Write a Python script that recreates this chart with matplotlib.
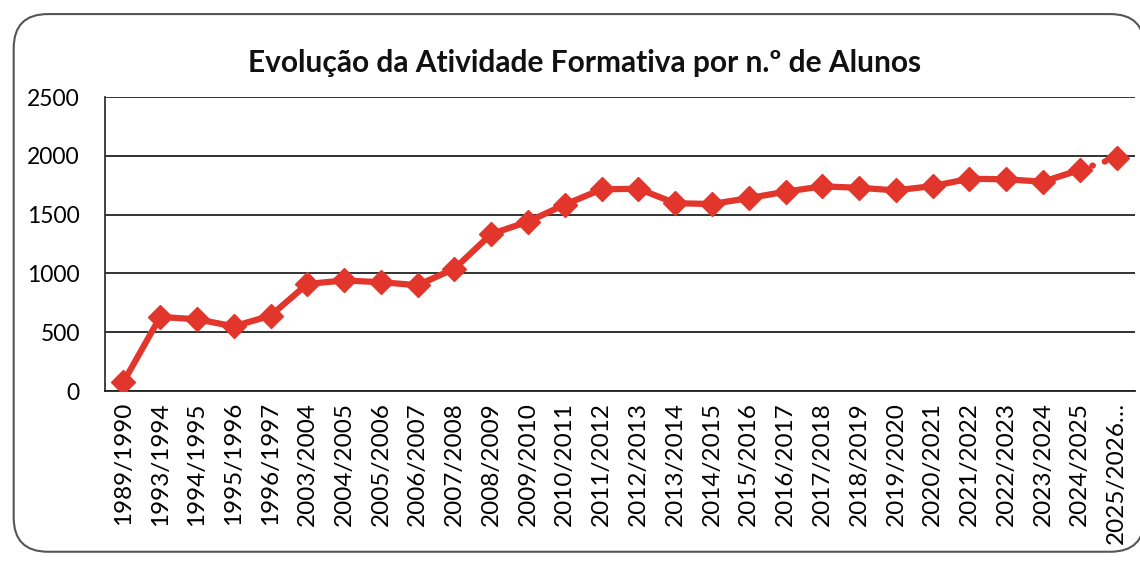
import matplotlib
matplotlib.use("Agg")
import matplotlib.pyplot as plt
from matplotlib.patches import FancyBboxPatch

plt.rcParams['font.family'] = ['Lato', 'DejaVu Sans']

categories = ["1989/1990", "1993/1994", "1994/1995", "1995/1996", "1996/1997",
              "2003/2004", "2004/2005", "2005/2006", "2006/2007", "2007/2008",
              "2008/2009", "2009/2010", "2010/2011", "2011/2012", "2012/2013",
              "2013/2014", "2014/2015", "2015/2016", "2016/2017", "2017/2018",
              "2018/2019", "2019/2020", "2020/2021", "2021/2022", "2022/2023",
              "2023/2024", "2024/2025", "2025/2026…"]
alunos = [75, 630, 610, 550, 640, 910, 940, 925, 900, 1040, 1335, 1440, 1585,
          1715, 1720, 1597, 1590, 1640, 1695, 1740, 1728, 1706, 1743, 1805,
          1800, 1780, 1880, 1985]
y_ticks = [0, 500, 1000, 1500, 2000, 2500]
title = "Evolução da Atividade Formativa por n.º de Alunos"

RED = "#E2352B"

fig = plt.figure(figsize=(11.4, 5.63), dpi=100)
frame = FancyBboxPatch((0.012, 0.02), 0.992, 0.955, transform=fig.transFigure,
                       boxstyle="round,pad=0,rounding_size=0.03",
                       facecolor="white", edgecolor="#555555", linewidth=1.5,
                       mutation_aspect=1140/563, zorder=-5)
fig.patches.append(frame)

ax = fig.add_axes([0.0921, 0.3055, 0.9035, 0.5222])
ax.set_facecolor("none")
x = list(range(len(categories)))

n_solid = len(categories) - 1
ax.plot(x[:n_solid], alunos[:n_solid], color=RED, linewidth=4.5,
        marker="D", markersize=12, markerfacecolor=RED, markeredgecolor=RED,
        solid_joinstyle="round", zorder=3)
ax.plot(x[n_solid - 1:], alunos[n_solid - 1:], color=RED, linewidth=4.5,
        linestyle=(0, (0.1, 2.0)), dash_capstyle="round", zorder=3)
ax.plot(x[n_solid:], alunos[n_solid:], linestyle="none", marker="D",
        markersize=12, color=RED, zorder=3)

ax.set_xlim(-0.5, len(categories) - 0.5)
ax.set_ylim(0, 2500)
ax.set_yticks(y_ticks)
ax.set_yticklabels([str(v) for v in y_ticks], fontsize=16.5)
ax.set_xticks(x)
ax.set_xticklabels(categories, rotation=90, fontsize=17.5)
ax.tick_params(axis="both", length=0, pad=8)
ax.tick_params(axis="y", pad=18)
ax.grid(axis="y", color="#222222", linewidth=1.3)
ax.set_axisbelow(True)
for s in ["top", "right"]:
    ax.spines[s].set_visible(False)
ax.spines["left"].set_color("#333333")
ax.spines["left"].set_linewidth(1.3)
ax.spines["bottom"].set_color("#222222")
ax.spines["bottom"].set_linewidth(1.3)

fig.text(0.513, 0.888, title, ha="center", va="center", fontsize=21.5,
         fontweight="bold", color="#111111")

fig.savefig("out.png", dpi=100)
